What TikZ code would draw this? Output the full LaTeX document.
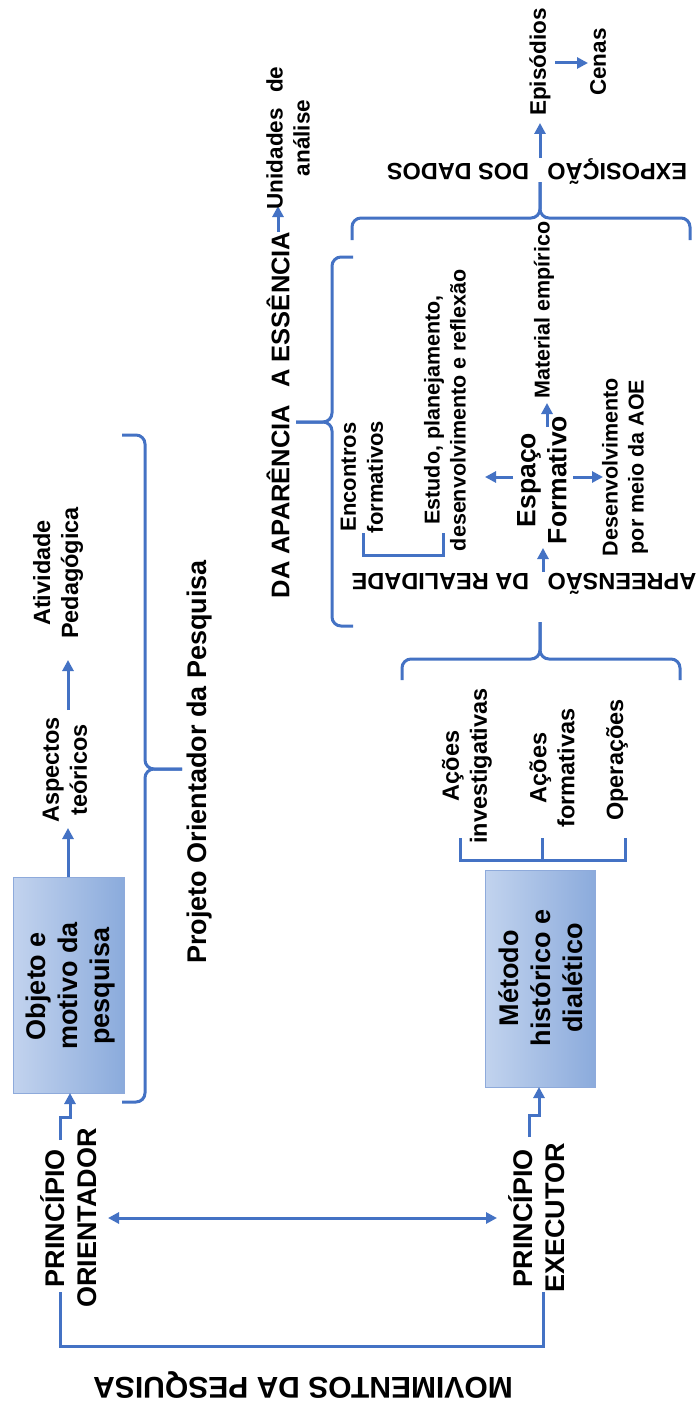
\documentclass[tikz,border=0pt]{standalone}
\usepackage{fontspec}
\setmainfont{Liberation Sans}
\usetikzlibrary{arrows.meta}
\definecolor{linkblue}{HTML}{4472C4}
\definecolor{boxlight}{HTML}{C2D3EE}
\definecolor{boxdark}{HTML}{8BABDC}
\definecolor{boxedge}{HTML}{8EAADB}
\begin{document}
\begin{tikzpicture}[x=1pt,y=-1pt,
  link/.style={draw=linkblue, line width=3pt},
  arr/.style={link, -{Triangle[length=11pt,width=11pt]}},
  dblarr/.style={link, {Triangle[length=11pt,width=11pt]}-{Triangle[length=11pt,width=11pt]}},
  brace/.style={link, rounded corners=9pt},
  txt/.style={inner sep=0pt, align=center, rotate=90, font=\fontsize{23.5}{28}\selectfont\bfseries},
  stxt/.style={inner sep=0pt, align=center, rotate=90, font=\fontsize{21.5}{26}\selectfont\bfseries},
  btxt/.style={inner sep=0pt, align=center, rotate=90, font=\fontsize{27}{32}\selectfont\bfseries},
  flip/.style={inner sep=0pt, rotate=180, font=\fontsize{23.5}{28}\selectfont\bfseries},
  panel/.style={draw=boxedge, line width=0.8pt, left color=boxlight, right color=boxdark, inner sep=0pt},
]
\fill[white] (0,0) rectangle (698,1410);
\useasboundingbox (0,0) rectangle (698,1410);

% ---------- bottom: the two principles ----------
\node[inner sep=0pt, rotate=180, font=\fontsize{30}{36}\selectfont\bfseries] (mov) at (303,1385) {MOVIMENTOS DA PESQUISA};
\node[btxt] (orient) at (69,1218) {PRINCÍPIO\\ORIENTADOR};
\node[btxt] (exec) at (537,1218) {PRINCÍPIO\\EXECUTOR};
\coordinate (movL) at (60,1292);
\coordinate (movR) at (543,1292);
\draw[link] (movL) -- (60,1346) -- (543,1346) -- (movR);
\coordinate (dblL) at (108,1218);
\coordinate (dblR) at (497,1218);
\draw[dblarr] (dblL) -- (dblR);

% ---------- left column: guiding principle ----------
\node[panel, minimum width=111pt, minimum height=216pt] (box1) at (68.5,985) {};
\node[btxt] (box1t) at (71,986) {Objeto e\\motivo da\\pesquisa};
\coordinate (orientOut) at (60,1140);
\draw[arr] (orientOut) -- (60,1117) -- (70,1117) -- (70,1093);

\node[txt] (asp) at (65,770) {Aspectos\\teóricos};
\node[txt] (ativ) at (58,573) {Atividade\\Pedagógica};
\coordinate (aspIn) at (68,828);
\coordinate (aspOut) at (68,710);
\coordinate (ativIn) at (68,660);
\draw[arr] (box1.north -| aspIn) -- (aspIn);
\draw[arr] (aspOut) -- (ativIn);

\draw[brace] (122,435) -- (145,435) -- (145,769) -- (182,769);
\draw[brace] (122,1102) -- (145,1102) -- (145,769) -- (182,769);
\node[btxt] (proj) at (200,762) {Projeto Orientador da Pesquisa};

% ---------- middle column: executing principle ----------
\node[panel, minimum width=110pt, minimum height=217pt] (box2) at (540,978.5) {};
\node[btxt] (box2t) at (541,978) {Método\\histórico e\\dialético};
\coordinate (execOut) at (529,1137);
\draw[arr] (execOut) -- (529,1115) -- (539,1115) -- (539,1087);

\draw[link] (460,838) -- (460,860) -- (625,860) -- (625,838);
\draw[link] (542,860) -- (542,838);
\node[txt] (acoesI) at (467,766) {Ações\\investigativas};
\node[txt] (acoesF) at (552,768) {Ações\\formativas};
\node[txt] (oper) at (617,760) {Operações};

\draw[brace] (402,680) -- (402,659) -- (540,659) -- (540,622);
\draw[brace] (680,680) -- (680,659) -- (540,659) -- (540,622);
\node[flip] (apre) at (524,584) {APREENSÃO\hspace{0.5em} DA REALIDADE};

\node[btxt, font=\fontsize{26.5}{31}\selectfont\bfseries] (espaco) at (542,480) {Espaço\\Formativo};
\coordinate (apreOut) at (543,572);
\coordinate (espIn) at (543,548);
\draw[arr] (apreOut) -- (espIn);
\draw[arr] (513,477) -- (485,477);
\draw[arr] (573,477) -- (603,477);
\draw[arr] (547,427) -- (547,403);

\node[stxt] (mat) at (544,310) {Material empírico};
\node[stxt] (desenv) at (625,467) {Desenvolvimento\\por meio da AOE};
\node[stxt] (estudo) at (445,410) {Estudo, planejamento,\\desenvolvimento e reflexão};
\node[stxt, font=\fontsize{22}{27}\selectfont\bfseries] (encontros) at (362,477) {Encontros\\formativos};
\draw[link] (363,533) -- (363,555) -- (443,555) -- (443,533);

\draw[brace] (353,257) -- (332,257) -- (332,422) -- (296,422);
\draw[brace] (353,626) -- (332,626) -- (332,422) -- (296,422);
\node[btxt, font=\fontsize{25.5}{30}\selectfont\bfseries] (aparencia) at (278,415) {DA APARÊNCIA\hspace{0.4em} A ESSÊNCIA};
\draw[arr] (278,232) -- (278,206);
\node[txt, font=\fontsize{22.5}{27}\selectfont\bfseries] (unid) at (288,138) {Unidades\hspace{0.4em} de\\análise};

% ---------- top: exposition of the data ----------
\draw[brace] (352,240) -- (352,218) -- (540,218) -- (540,182);
\draw[brace] (690,240) -- (690,218) -- (540,218) -- (540,182);
\node[flip] (expo) at (537,172) {EXPOSIÇÃO\hspace{0.5em} DOS DADOS};
\draw[arr] (540,158) -- (540,123);
\node[txt, font=\fontsize{22.5}{27}\selectfont\bfseries] (epis) at (540,62) {Episódios};
\node[txt, font=\fontsize{22.5}{27}\selectfont\bfseries] (cenas) at (598,62) {Cenas};
\coordinate (episR) at (555,63);
\coordinate (cenasIn) at (588,63);
\draw[arr] (episR) -- (cenasIn);
\end{tikzpicture}
\end{document}
